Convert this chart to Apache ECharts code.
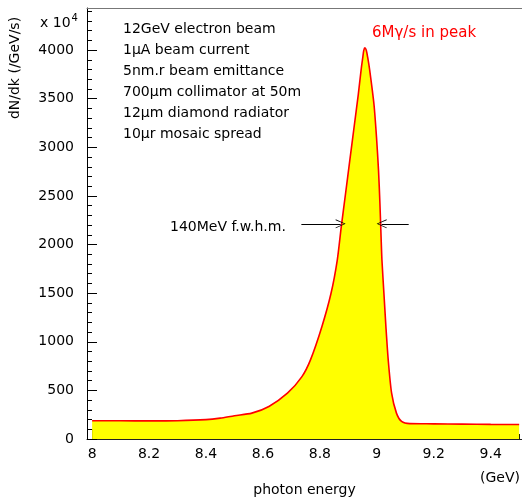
<!DOCTYPE html>
<html>
<head>
<meta charset="utf-8">
<script src="https://cdn.jsdelivr.net/npm/echarts@6/dist/echarts.min.js"></script>
<style>
  html, body { margin: 0; padding: 0; background: #fff; }
  #chart { width: 522px; height: 502px; }
</style>
</head>
<body>
<div id="chart"></div>
<script>
// photon energy (GeV) and rate
var energy = [8.0, 8.1, 8.2, 8.3, 8.4, 8.45, 8.5, 8.561, 8.621, 8.686, 8.737, 8.767, 8.807, 8.839,
  8.861, 8.875, 8.890, 8.905, 8.920, 8.935, 8.945, 8.951, 8.954, 8.958, 8.963, 8.968, 8.975, 8.990, 8.999,
  9.006, 9.011, 9.015, 9.018, 9.025, 9.032, 9.040, 9.052, 9.069, 9.087, 9.116, 9.2, 9.3, 9.4, 9.5];
var rate = [188, 187, 186, 188, 199, 215, 240, 266, 335, 471, 642, 814, 1155, 1496,
  1838, 2179, 2520, 2863, 3204, 3545, 3800, 3930, 3995, 4024, 3998, 3925, 3795, 3443, 3101,
  2763, 2418, 2077, 1841, 1496, 1155, 817, 471, 266, 181, 158, 156, 153, 150, 149];

var xMajor = [8, 8.2, 8.4, 8.6, 8.8, 9, 9.2, 9.4];
var xMinor = [8.05, 8.1, 8.15, 8.25, 8.3, 8.35, 8.45, 8.5, 8.55, 8.65, 8.7, 8.75, 8.85, 8.9, 8.95,
  9.05, 9.1, 9.15, 9.25, 9.3, 9.35, 9.45, 9.5];
var yMajor = [0, 500, 1000, 1500, 2000, 2500, 3000, 3500, 4000];
var yMinor = [];
for (var v = 100; v <= 4400; v += 100) { if (v % 500 !== 0) yMinor.push(v); }

// fwhm arrows (GeV) at this height
var fwhmY = 2213;
var fwhmLeft = [8.735, 8.873];
var fwhmRight = [9.112, 9.017];

var notes = ['12GeV electron beam', '1\u03bcA beam current', '5nm.r beam emittance',
  '700\u03bcm collimator at 50m', '12\u03bcm diamond radiator', '10\u03bcr mosaic spread'];

var font = 'DejaVu Sans';
var xMin = 7.982, xMax = 9.51, yMax = 4433;
var chevron = 'path://M5,0 L10,10 L9,10 L5,1.6 L1,10 L0,10 Z';

var points = energy.map(function(e, i) { return [e, rate[i]]; });

var chart = echarts.init(document.getElementById('chart'));
var option = {
  animation: false,
  grid: { left: 87, right: 0, top: 8, bottom: 59 },
  xAxis: [
    {
      type: 'value', min: xMin, max: xMax, position: 'bottom',
      axisLine: { lineStyle: { color: '#222', width: 1 } },
      axisTick: { inside: true, length: 10, customValues: xMajor, lineStyle: { color: '#000' } },
      axisLabel: { customValues: xMajor, color: '#000', fontFamily: font, fontSize: 14, margin: 8 },
      splitLine: { show: false },
      name: 'photon energy', nameLocation: 'middle', nameGap: 44,
      nameTextStyle: { color: '#000', fontFamily: font, fontSize: 14 }
    },
    {
      type: 'value', min: xMin, max: xMax, position: 'bottom',
      axisLine: { show: false },
      axisTick: { inside: true, length: 5, customValues: xMinor, lineStyle: { color: '#000' } },
      axisLabel: { show: false }, splitLine: { show: false }
    },
    {
      type: 'value', min: xMin, max: xMax, position: 'top',
      axisLine: { lineStyle: { color: '#777', width: 1 } },
      axisTick: { show: false }, axisLabel: { show: false }, splitLine: { show: false }
    }
  ],
  yAxis: [
    {
      type: 'value', min: 0, max: yMax, position: 'left',
      axisLine: { show: true, lineStyle: { color: '#000', width: 1 } },
      axisTick: { inside: true, length: 10, customValues: yMajor, lineStyle: { color: '#000' } },
      axisLabel: { customValues: yMajor, color: '#000', fontFamily: font, fontSize: 14, margin: 13,
        formatter: function(val) { return String(val); } },
      splitLine: { show: false }
    },
    {
      type: 'value', min: 0, max: yMax, position: 'left',
      axisLine: { show: false },
      axisTick: { inside: true, length: 5, customValues: yMinor, lineStyle: { color: '#000' } },
      axisLabel: { show: false }, splitLine: { show: false }
    }
  ],
  series: [
    {
      type: 'line',
      data: points,
      smooth: 0.25,
      symbol: 'none',
      lineStyle: { color: '#ff0000', width: 1.6 },
      areaStyle: { color: '#ffff00', opacity: 1 },
      z: 2,
      markLine: {
        silent: true,
        symbol: ['none', chevron],
        symbolSize: [9, 10],
        label: { show: false },
        lineStyle: { color: '#000', width: 1, type: 'solid' },
        data: [
          [{ coord: [fwhmLeft[0], fwhmY] }, { coord: [fwhmLeft[1], fwhmY] }],
          [{ coord: [fwhmRight[0], fwhmY] }, { coord: [fwhmRight[1], fwhmY] }]
        ]
      }
    }
  ],
  graphic: [
    {
      type: 'text', x: 15, y: 68, rotation: Math.PI / 2,
      style: { text: 'dN/dk (/GeV/s)', fontFamily: font, fontSize: 14, fill: '#000',
        align: 'center', verticalAlign: 'middle' }
    },
    {
      type: 'text', x: 40, y: 23,
      style: {
        text: 'x 10{s|4}', fontFamily: font, fontSize: 14, fill: '#000', verticalAlign: 'middle',
        rich: { s: { fontSize: 10, fontFamily: font, verticalAlign: 'bottom', padding: [0, 0, 10, 1] } }
      }
    },
    {
      type: 'text', x: 123, y: 19,
      style: { text: notes.join('\n'), fontFamily: font, fontSize: 14, lineHeight: 21, fill: '#000' }
    },
    {
      type: 'text', x: 372, y: 33,
      style: { text: '6M\u03b3/s in peak', fontFamily: font, fontSize: 15, fill: '#ff0000',
        verticalAlign: 'middle' }
    },
    {
      type: 'text', x: 170, y: 227,
      style: { text: '140MeV f.w.h.m.', fontFamily: font, fontSize: 14, fill: '#000',
        verticalAlign: 'middle' }
    },
    {
      type: 'text', x: 520, y: 478,
      style: { text: '(GeV)', fontFamily: font, fontSize: 14, fill: '#000',
        align: 'right', verticalAlign: 'middle' }
    }
  ]
};
chart.setOption(option);
</script>
</body>
</html>
